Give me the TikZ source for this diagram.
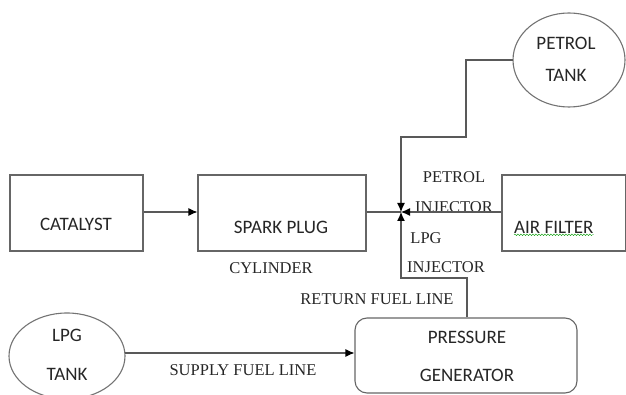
\documentclass[tikz,border=0pt]{standalone}
\usepackage{fontspec}
\setmainfont{Liberation Serif}
\newfontfamily\carl{Carlito}
\usetikzlibrary{arrows.meta,decorations.pathmorphing}
\begin{document}
\begin{tikzpicture}[x=1pt,y=-1pt,
  line/.style={draw=black!65,line width=1.1pt},
  arr/.style={line,-{Latex[length=9pt,width=8pt,fill=black,color=black]}},
  box/.style={line,draw=black!60,minimum width=#1,minimum height=76pt,inner sep=0pt},
  rbox/.style={line,draw=black!60,rounded corners=12pt,inner sep=0pt},
  sans/.style={font=\carl\fontsize{19}{21}\selectfont,text=black!85,inner sep=0pt},
  serif/.style={font=\fontsize{16.5}{18}\selectfont,text=black!85,inner sep=0pt}]
\useasboundingbox (0,0) rectangle (626,395);
% boxes
\node[box=133pt] (cat) at (76.5,213) {};
\node[box=168pt] (spark) at (282,213) {};
\node[box=123.5pt] (air) at (563.75,213) {};
\node[rbox,minimum width=222pt,minimum height=75pt] (press) at (466,355.5) {};
\draw[line,draw=black!55] (569,60) ellipse [x radius=56, y radius=47];
\coordinate (ptank) at (513,60);
\draw[line,draw=black!55] (67,356) ellipse [x radius=58, y radius=43];
\coordinate (ltank) at (125,353);
% texts
\node[sans] (tcat) at (76,224) {CATALYST};
\node[sans] (tspark) at (281,227) {SPARK PLUG};
\node[sans,anchor=west] (tair) at (514,227) {AIR FILTER};
\draw[green!60!black,decorate,decoration={snake,amplitude=0.8pt,segment length=3pt}]
  ([yshift=-1.5pt]tair.south west) -- ([yshift=-1.5pt]tair.south east);
\node[sans] (tpet1) at (566,43) {PETROL};
\node[sans] (tpet2) at (566,75) {TANK};
\node[sans] (tlpg1) at (67,335) {LPG};
\node[sans] (tlpg2) at (67,374) {TANK};
\node[sans] (tpr1) at (467,337) {PRESSURE};
\node[sans] (tpr2) at (467,375) {GENERATOR};
\node[serif] (lpi1) at (454,177) {PETROL};
\node[serif] (lpi2) at (454,207) {INJECTOR};
\node[serif] (lli1) at (426,238) {LPG};
\node[serif] (lli2) at (446,267) {INJECTOR};
\node[serif] (lcyl) at (271,268) {CYLINDER};
\node[serif] (lret) at (377,299) {RETURN FUEL LINE};
\node[serif] (lsup) at (243,370) {SUPPLY FUEL LINE};
% connectors
\coordinate (j) at (401,212);
\draw[arr] (cat.east |- 0,212) -- (spark.west |- 0,212);
\draw[line] (spark.east |- j) -- (j);
\draw[arr] (air.west |- j) -- (j);
\draw[arr] (ptank) -- (466,60) -- (466,137) -- (401,137) -- (j);
\draw[arr] (press.north -| 467,0) -- (467,278) -- (401,278) -- (j);
\draw[arr] (ltank) -- (press.west |- ltank);
\end{tikzpicture}
\end{document}
